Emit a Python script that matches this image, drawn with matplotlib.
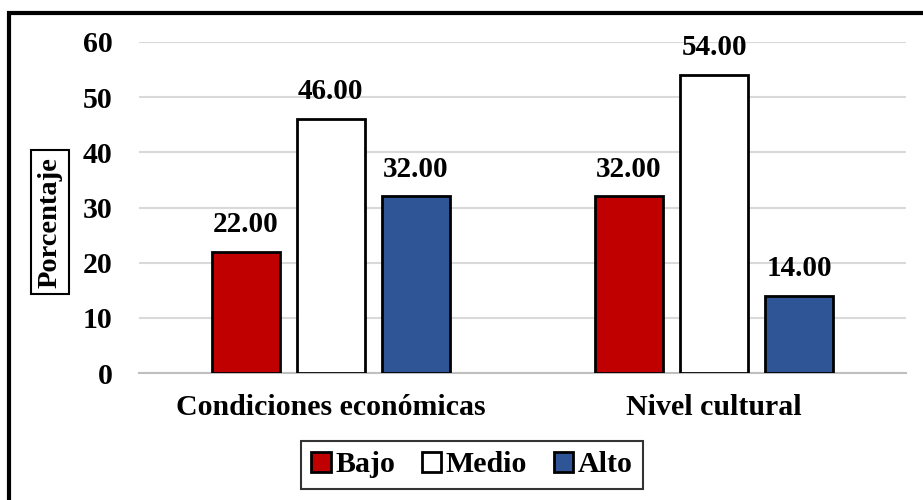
import numpy as np
import matplotlib.pyplot as plt
from matplotlib.patches import Rectangle

# datos del grafico
categorias = ["Condiciones económicas", "Nivel cultural"]
series = ["Bajo", "Medio", "Alto"]
bajo = [22.00, 32.00]
medio = [46.00, 54.00]
alto = [32.00, 14.00]
colores = ["#C00000", "#FFFFFF", "#2F5597"]

plt.rcParams["font.family"] = ["Liberation Serif", "DejaVu Serif"]
plt.rcParams["font.weight"] = "bold"

fig = plt.figure(figsize=(9.23, 5.0), dpi=100)
ax = fig.add_axes([139 / 923, 127 / 500, 767 / 923, 331 / 500])

x = np.arange(len(categorias))
ancho = 0.177
paso = 0.222
valores = [bajo, medio, alto]
for i, (nombre, vals, col) in enumerate(zip(series, valores, colores)):
    barras = ax.bar(x + (i - 1) * paso, vals, width=ancho, color=col,
                    edgecolor="black", linewidth=2, label=nombre, zorder=3)
    for b, v in zip(barras, vals):
        ax.annotate(f"{v:.2f}", (b.get_x() + b.get_width() / 2, v),
                    xytext=(0, 10), textcoords="offset points",
                    ha="center", va="bottom", fontsize=21, fontweight="bold")

ax.set_xlim(-0.5, 1.5)
ax.set_ylim(0, 60)
ax.set_yticks(range(0, 61, 10))
ax.set_xticks(x)
ax.set_xticklabels(categorias, fontsize=21.5, fontweight="bold")
ax.tick_params(axis="y", length=0, pad=19, labelsize=21.5)
ax.tick_params(axis="x", length=0, pad=15)
ax.yaxis.grid(True, color="#D9D9D9", linewidth=1.5, zorder=0)
ax.set_axisbelow(True)
for s in ["top", "right", "left"]:
    ax.spines[s].set_visible(False)
ax.spines["bottom"].set_color("#BFBFBF")
ax.spines["bottom"].set_linewidth(1.5)

ax.set_ylabel("Porcentaje", fontsize=20.5, fontweight="bold",
              bbox=dict(facecolor="white", edgecolor="black", linewidth=1.5,
                        boxstyle="square,pad=0.22"))
ax.yaxis.set_label_coords(-0.116, 0.456)
ax.yaxis.label.set_va("center")

leg = fig.legend(loc="center", bbox_to_anchor=(472 / 923, 1 - 465 / 500),
                 ncol=3, frameon=True, fancybox=False, fontsize=21.5,
                 handlelength=0.65, handleheight=0.65, handletextpad=0.15,
                 columnspacing=0.9, borderpad=0.35)
leg.get_frame().set_edgecolor("black")
leg.get_frame().set_linewidth(1.5)

# borde exterior
fig.patches.append(Rectangle((9 / 923, -0.05), 1.1, 1 - 13 / 500 + 0.05,
                             transform=fig.transFigure, fill=False,
                             edgecolor="black", linewidth=3))

fig.savefig("out.png", dpi=100)
